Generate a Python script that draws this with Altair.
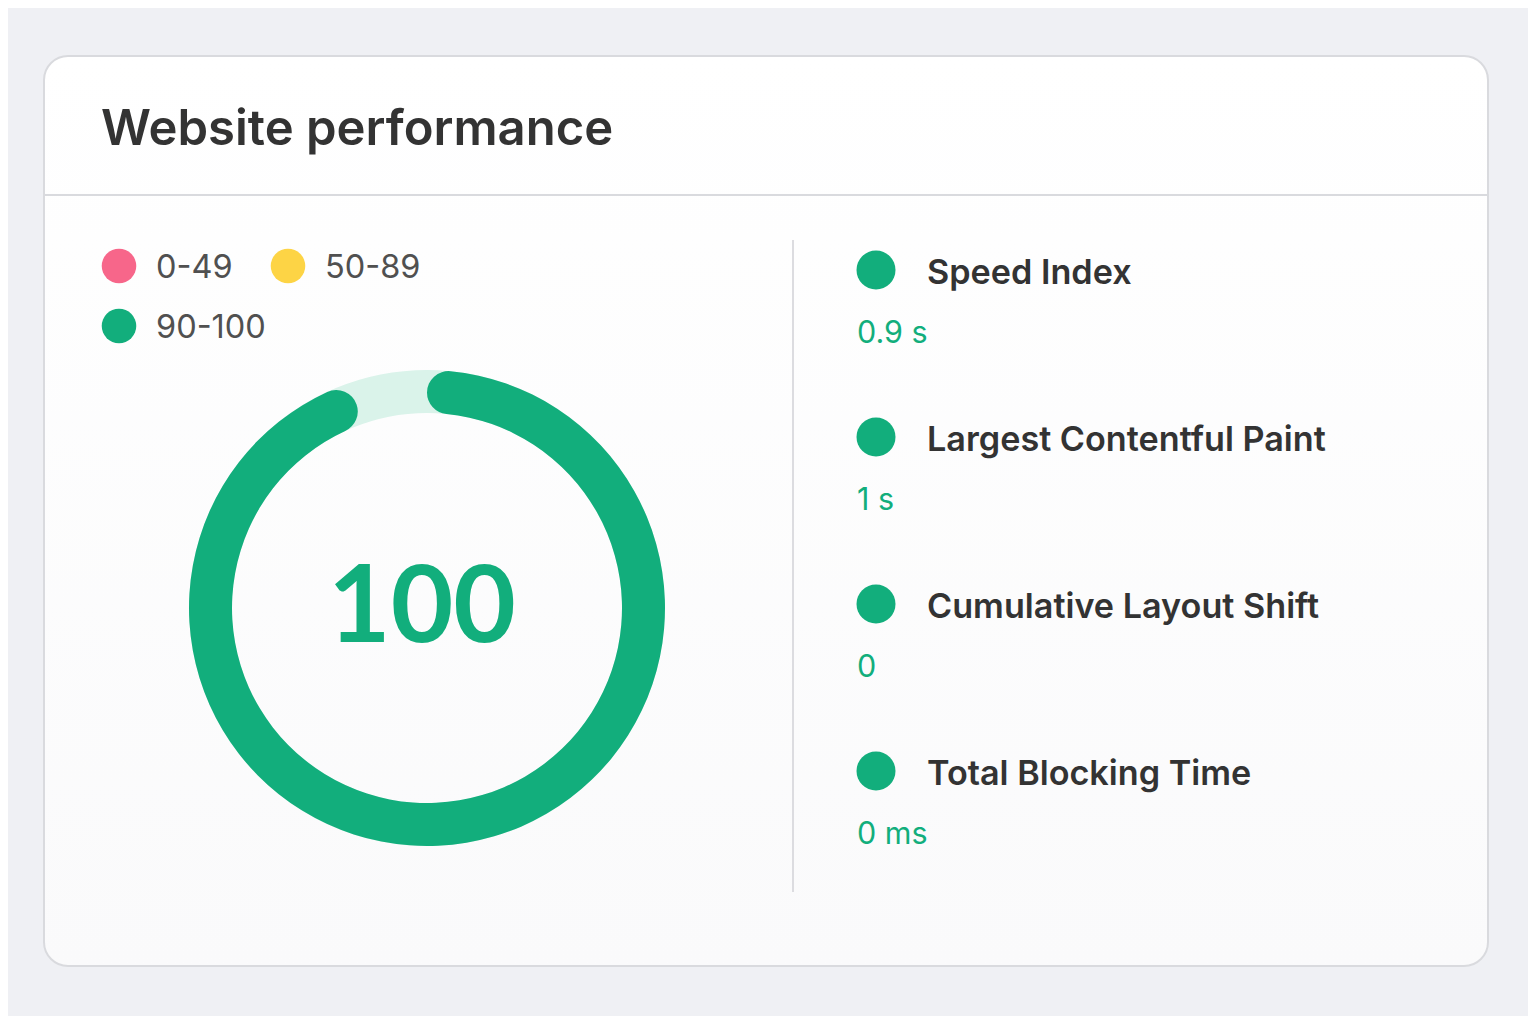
import math
import altair as alt
import pandas as pd

# ---------------- data ----------------
title_text = "Website performance"

legend_labels = ["0-49", "50-89", "90-100"]
legend_colors = ["#f7668a", "#fdd445", "#12ae7c"]

gauge_score = 100
gauge_parts = ["track", "score"]
gauge_start = [0, 0]
gauge_end = [100, 94.7]
gauge_colors = ["#daf3ea", "#12ae7c"]

metric_names = ["Speed Index", "Largest Contentful Paint",
                "Cumulative Layout Shift", "Total Blocking Time"]
metric_values = [0.9, 1, 0, 0]
metric_units = ["s", "s", "", "ms"]
metric_status = ["90-100", "90-100", "90-100", "90-100"]

# ---------------- tables ----------------
FONT = "Inter"
W, H = 1520, 1008

one = pd.DataFrame({"k": [0]})

legend_df = pd.DataFrame({
    "label": legend_labels,
    "col": [i % 2 for i in range(len(legend_labels))],
    "row": [i // 2 for i in range(len(legend_labels))],
})

gauge_df = pd.DataFrame({"part": gauge_parts, "start": gauge_start, "end": gauge_end})

metric_df = pd.DataFrame({
    "name": metric_names,
    "idx": list(range(len(metric_names))),
    "value_text": [(f"{v:g} {u}").strip() for v, u in zip(metric_values, metric_units)],
    "status": metric_status,
})

score_df = pd.DataFrame({"score": [gauge_score]})

status_color = alt.Color("label:N", scale=alt.Scale(domain=legend_labels, range=legend_colors), legend=None)

# ---------------- card ----------------
card = alt.Chart(one).mark_rect(
    cornerRadius=24,
    fill=alt.Gradient(gradient="linear", x1=0, y1=0, x2=0, y2=1,
                      stops=[alt.GradientStop(color="#ffffff", offset=0),
                             alt.GradientStop(color="#fafafb", offset=1)]),
    stroke="#d9dade", strokeWidth=2,
).encode(x=alt.value(36), x2=alt.value(1480), y=alt.value(48), y2=alt.value(958))

header_rule = alt.Chart(one).mark_rule(color="#d9dade", strokeWidth=2).encode(
    x=alt.value(37), x2=alt.value(1479), y=alt.value(187))

vert_rule = alt.Chart(one).mark_rule(color="#dcdce0", strokeWidth=2).encode(
    x=alt.value(785), y=alt.value(232), y2=alt.value(884))

title = alt.Chart(one).mark_text(
    align="left", baseline="alphabetic", font=FONT, fontSize=49, fontWeight=600, color="#333333"
).encode(x=alt.value(93), y=alt.value(137), text=alt.value(title_text))

# ---------------- legend ----------------
lx = alt.X("col:Q", scale=alt.Scale(domain=[0, 1], range=[111, 280]), axis=None)
ly = alt.Y("row:Q", scale=alt.Scale(domain=[0, 1], range=[258, 318]), axis=None)

legend_dots = alt.Chart(legend_df).mark_circle(size=math.pi * 19.5 ** 2, opacity=1).encode(
    x=lx, y=ly, color=status_color)

legend_text = alt.Chart(legend_df).mark_text(
    align="left", baseline="alphabetic", font=FONT, fontSize=32.5, fontWeight=400,
    color="#505050", dx=37, dy=12
).encode(x=lx, y=ly, text="label:N")

# ---------------- gauge ----------------
theta_scale = alt.Scale(domain=[0, 100], range=[0, 2 * math.pi])
gauge_color = alt.Color("part:N", scale=alt.Scale(domain=gauge_parts, range=gauge_colors), legend=None)

def gauge_layer(part):
    return alt.Chart(gauge_df).transform_filter(alt.datum.part == part).mark_arc(
        radius=238, radius2=195, cornerRadius=21.5
    ).encode(
        theta=alt.Theta("start:Q", scale=theta_scale, stack=False),
        theta2="end:Q",
        color=gauge_color,
        x=alt.value(419), y=alt.value(600),
    )

gauge_track = gauge_layer("track")
gauge_arc = gauge_layer("score")

score_text = alt.Chart(score_df).mark_text(
    align="center", baseline="alphabetic", font="Lato", fontSize=108, fontWeight=700, color="#12ae7c"
).encode(x=alt.value(414), y=alt.value(634), text="score:Q")

# ---------------- metrics ----------------
my = alt.Y("idx:Q", scale=alt.Scale(domain=[0, 3], range=[262, 763]), axis=None)

metric_dots = alt.Chart(metric_df).mark_circle(size=math.pi * 22 ** 2, opacity=1).encode(
    x=alt.value(868), y=my,
    color=alt.Color("status:N", scale=alt.Scale(domain=legend_labels, range=legend_colors), legend=None))

metric_name_text = alt.Chart(metric_df).mark_text(
    align="left", baseline="alphabetic", font=FONT, fontSize=34.2, fontWeight=600,
    color="#333333", dy=14
).encode(x=alt.value(919), y=my, text="name:N")

metric_value_text = alt.Chart(metric_df).mark_text(
    align="left", baseline="alphabetic", font=FONT, fontSize=30.5, fontWeight=400,
    color="#12ae7c", dy=73
).encode(x=alt.value(849), y=my, text="value_text:N")

chart = alt.layer(
    card, header_rule, vert_rule, title,
    legend_dots, legend_text,
    gauge_track, gauge_arc, score_text,
    metric_dots, metric_name_text, metric_value_text,
).resolve_scale(
    x="independent", y="independent", color="independent", theta="independent"
).properties(
    width=W, height=H, padding=0, autosize=alt.AutoSizeParams(type="none"),
    background="#eff0f4",
).configure_view(stroke=None)

chart.save("out.html", embed_options={"renderer": "svg", "actions": False})
